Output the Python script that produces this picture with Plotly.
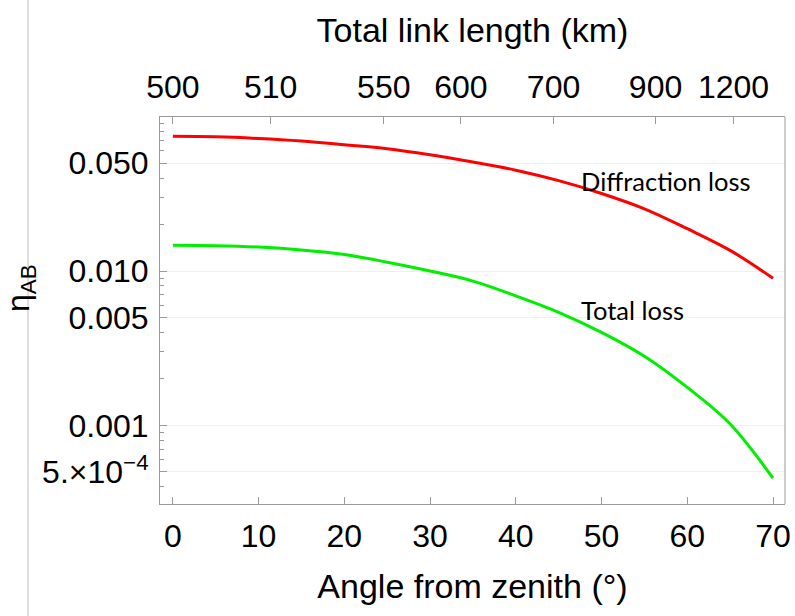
import plotly.graph_objects as go

# ---- data ----
angle_deg = [0, 5, 10, 15, 20, 25, 30, 35, 40, 45, 50, 55, 60, 65, 70]
diffraction_loss = [0.0746, 0.0740, 0.0722, 0.0695, 0.0658, 0.0620, 0.0566, 0.0508,
                    0.0450, 0.0385, 0.0318, 0.0253, 0.0188, 0.0136, 0.00897]
total_loss = [0.0147, 0.0146, 0.0143, 0.0137, 0.0128, 0.0114, 0.0100, 0.0086,
              0.0069, 0.0054, 0.0040, 0.0028, 0.00176, 0.00102, 0.000454]

bottom_ticks = [0, 10, 20, 30, 40, 50, 60, 70]
top_tick_angles = [0, 11.4, 24.6, 33.6, 44.4, 56.3, 65.4]
top_tick_labels = ["500", "510", "550", "600", "700", "900", "1200"]
y_tick_vals = [0.05, 0.01, 0.005, 0.001, 0.0005]
y_tick_text = ["0.050", "0.010", "0.005", "0.001", "5.\u00d710<sup>\u22124</sup>"]
y_minor_vals = [0.0004, 0.0006, 0.0007, 0.0008, 0.0009, 0.002, 0.003, 0.004,
                0.006, 0.007, 0.008, 0.009, 0.02, 0.03, 0.04, 0.06, 0.07, 0.08, 0.09]

FONT = "Liberation Sans"
FRAME = "#9a9a9a"
XR = [-1.5, 71.4]
TICK_SIZE = 32
TITLE_SIZE = 34

fig = go.Figure()
fig.add_trace(go.Scatter(x=angle_deg, y=diffraction_loss, mode="lines",
                         line=dict(color="#ff0000", width=3, shape="spline"),
                         showlegend=False))
fig.add_trace(go.Scatter(x=angle_deg, y=total_loss, mode="lines",
                         line=dict(color="#00ee00", width=3, shape="spline"),
                         showlegend=False))
# invisible trace to activate top axis
fig.add_trace(go.Scatter(x=[angle_deg[0]], y=[total_loss[0]], xaxis="x2",
                         mode="markers", marker=dict(opacity=0, size=1), showlegend=False,
                         hoverinfo="skip"))

fig.update_layout(
    width=795, height=616,
    margin=dict(l=160, r=10, t=117, b=112, autoexpand=False),
    paper_bgcolor="white", plot_bgcolor="white",
    font=dict(family=FONT, size=TICK_SIZE, color="black"),
    xaxis=dict(range=XR, tickmode="array", tickvals=bottom_ticks,
               automargin=False, ticklabeloverflow="allow",
               ticks="inside", ticklen=7, tickcolor=FRAME,
               showline=True, linecolor=FRAME, linewidth=1, mirror=False,
               showgrid=False, zeroline=False,
               tickfont=dict(size=TICK_SIZE), ticklabelstandoff=4,
               title=dict(text="Angle from zenith (\u00b0)", font=dict(size=TITLE_SIZE),
                          standoff=20)),
    xaxis2=dict(range=XR, overlaying="x", side="top", tickmode="array",
                tickvals=top_tick_angles, ticktext=top_tick_labels,
                automargin=False, ticklabeloverflow="allow",
                ticks="inside", ticklen=7, tickcolor=FRAME,
                showline=True, linecolor=FRAME, linewidth=1,
                showgrid=False, zeroline=False,
                tickfont=dict(size=TICK_SIZE), ticklabelstandoff=5,
                title=dict(text="Total link length (km)", font=dict(size=TITLE_SIZE),
                           standoff=16)),
    yaxis=dict(type="log", range=[-3.510, -1.002], tickmode="array",
               tickvals=y_tick_vals, ticktext=y_tick_text,
               automargin=False, ticklabeloverflow="allow",
               ticks="inside", ticklen=7, tickcolor=FRAME,
               showline=True, linecolor=FRAME, linewidth=1, mirror=False,
               showgrid=True, gridcolor="#efefef", gridwidth=1, zeroline=False,
               tickfont=dict(size=TICK_SIZE), ticklabelstandoff=4,
               minor=dict(tickmode="array", tickvals=y_minor_vals, ticks="inside",
                          ticklen=4, tickcolor=FRAME, showgrid=False)),
)

# right frame edge
fig.add_shape(type="line", xref="paper", yref="paper", x0=1, x1=1, y0=0, y1=1,
              line=dict(color=FRAME, width=1))
# thin vertical line at the far left of the image
fig.add_shape(type="line", xref="paper", yref="paper",
              x0=(28 - 160) / 625, x1=(28 - 160) / 625, y0=-0.29, y1=1.31,
              line=dict(color="#c0c0c0", width=1))

# y-axis title
fig.add_annotation(text="\u03b7<sub>AB</sub>", xref="paper", yref="paper",
                   x=(20 - 160) / 625, y=(504 - 288) / 387, showarrow=False,
                   xanchor="center", yanchor="middle",
                   textangle=-90, font=dict(family=FONT, size=TICK_SIZE))

# curve labels
fig.add_annotation(text="Diffraction loss", x=47.4, y=-1.417, xanchor="left",
                   yanchor="middle", showarrow=False,
                   font=dict(family="Lato", size=25.5, color="black"))
fig.add_annotation(text="Total loss", x=47.4, y=-2.253, xanchor="left",
                   yanchor="middle", showarrow=False,
                   font=dict(family="Lato", size=25.5, color="black"))

fig.write_html("out.html", config={"displayModeBar": False},
               post_script=("document.documentElement.style.overflow='hidden';"
                            "document.body.style.overflow='hidden';"
                            "document.body.style.margin='0';"
                            "document.body.style.padding='0';"))
